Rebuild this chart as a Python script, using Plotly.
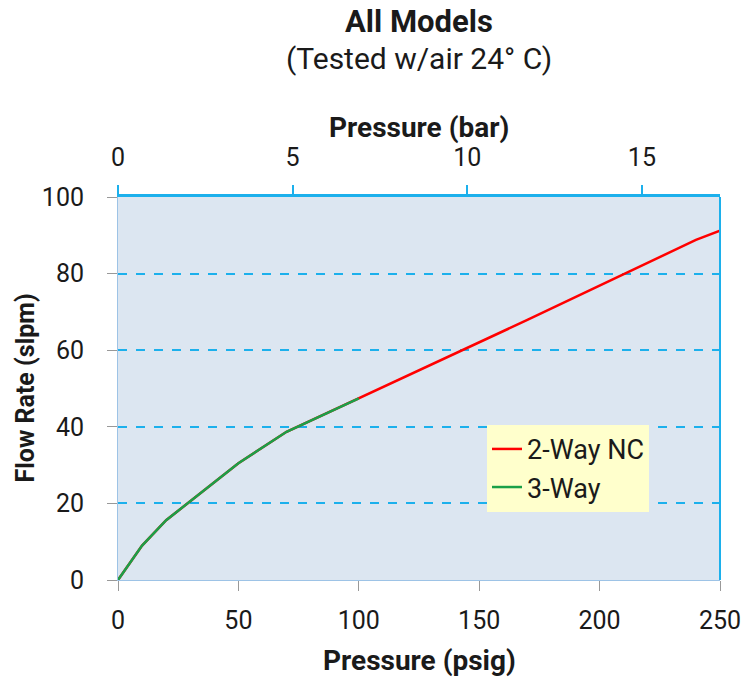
import plotly.graph_objects as go

psig_2way = [0, 10, 20, 50, 70, 100, 170, 240, 250]
flow_2way = [0, 9, 15.6, 30.5, 38.7, 47.4, 67.9, 88.8, 91.2]
psig_3way = [0, 10, 20, 50, 70, 100]
flow_3way = [0, 9, 15.6, 30.5, 38.7, 47.4]

PSI_PER_BAR = 14.5038
bar_ticks = [0, 5, 10, 15]
psig_ticks = [0, 50, 100, 150, 200, 250]
flow_ticks = [0, 20, 40, 60, 80, 100]

FONT = "Roboto"
BLUE = "#1CB0EC"
TXT = "#1a1a1a"

fig = go.Figure()
fig.add_trace(go.Scatter(x=psig_2way, y=flow_2way, mode="lines", name="2-Way NC",
                         line=dict(color="#FF0000", width=2.5)))
fig.add_trace(go.Scatter(x=psig_3way, y=flow_3way, mode="lines", name="3-Way",
                         line=dict(color="#1AA048", width=2.5)))
fig.add_trace(go.Scatter(x=[0, 250 / PSI_PER_BAR], y=[0, 0], xaxis="x2", mode="lines",
                         line=dict(width=0), showlegend=False, hoverinfo="skip"))

fig.update_layout(
    width=743, height=679,
    margin=dict(l=118, r=23, t=197, b=99, autoexpand=False),
    paper_bgcolor="white",
    plot_bgcolor="#DCE6F1",
    font=dict(family=FONT, size=25, color=TXT),
    showlegend=True,
    legend=dict(x=0.613, y=0.405, xanchor="left", yanchor="top",
                bgcolor="#FFFFCC", font=dict(size=27, family=FONT, color=TXT),
                itemwidth=30, tracegroupgap=0),
    xaxis=dict(range=[0, 250], tickvals=psig_ticks, showgrid=False, zeroline=False,
               automargin=False, ticklabelstandoff=8,
               ticks="outside", ticklen=10, tickcolor="#999999",
               showline=True, linecolor="#9DC3E6", linewidth=1,
               tickfont=dict(size=25)),
    xaxis2=dict(range=[0, 250 / PSI_PER_BAR], tickvals=bar_ticks, overlaying="x", side="top",
                automargin=False, ticklabelstandoff=9,
                showgrid=False, zeroline=False, ticks="outside", ticklen=9, tickcolor=BLUE,
                tickwidth=2, showline=True, linecolor=BLUE, linewidth=2.5,
                tickfont=dict(size=25)),
    yaxis=dict(range=[0, 100], tickvals=flow_ticks, showgrid=True, gridcolor=BLUE,
               griddash="dash", gridwidth=1.5, zeroline=False, automargin=False,
               ticklabelstandoff=18,
               ticks="outside", ticklen=10, tickcolor="#999999",
               showline=True, linecolor="#9DC3E6", linewidth=1,
               tickfont=dict(size=25)),
)
fig.add_shape(type="line", xref="paper", yref="paper", x0=1, x1=1, y0=0, y1=1,
              line=dict(color=BLUE, width=2))

def ann(text, x, y, xs, ys, size, angle=0):
    fig.add_annotation(text=text, xref="paper", yref="paper", x=x, y=y,
                       xanchor="center", yanchor="middle", xshift=xs, yshift=ys,
                       textangle=angle, showarrow=False,
                       font=dict(size=size, family=FONT, color=TXT))

ann("<b>All Models</b>", 0.5, 1, 0, 176, 31)
ann("(Tested w/air 24° C)", 0.5, 1, 0, 139, 30)
ann("<b>Pressure (bar)</b>", 0.5, 1, 0, 70, 28)
ann("<b>Pressure (psig)</b>", 0.5, 0, 0, -80, 28)
ann("<b>Flow Rate (slpm)</b>", 0, 0.5, -93, 0, 25, -90)

fig.write_html("out.html", config={"displayModeBar": False},
               post_script="document.body.style.margin='0';document.body.style.overflow='hidden';")
